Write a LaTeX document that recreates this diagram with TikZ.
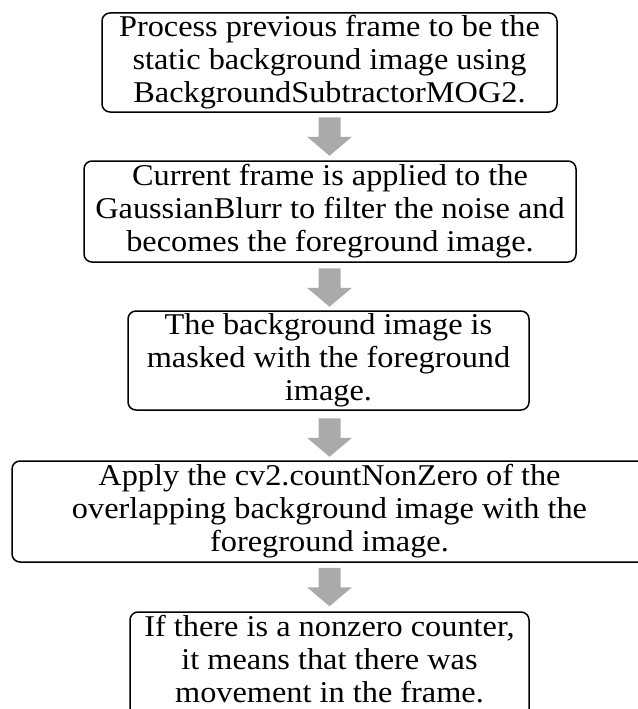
\documentclass[tikz,border=0pt]{standalone}
\usepackage{fontspec}
\setmainfont{Liberation Serif}[FakeStretch=1.07]
\usetikzlibrary{calc}
\definecolor{arrowgray}{RGB}{170,170,170}
\tikzset{
  stepbox/.style={draw=black, line width=1.5pt, rounded corners=8pt, inner sep=0pt,
    align=center, font=\fontsize{30.2}{33}\selectfont},
}
\newcommand\blkarrow[1]{\fill[arrowgray] #1 ++(-11,0) -- ++(22,0) -- ++(0,19.5) -- ++(11.5,0) -- ++(-22.5,19) -- ++(-22.5,-19) -- ++(11.5,0) -- cycle;}
\begin{document}
\begin{tikzpicture}[x=1pt,y=-1pt]
\useasboundingbox (0,0) rectangle (637,709);
\node[stepbox, minimum width=455pt, minimum height=99pt] (b1) at (329.5,62.5)
  {Process previous frame to be the\\static background image using\\BackgroundSubtractorMOG2.};
\node[stepbox, minimum width=492pt, minimum height=101pt] (b2) at (330,211.5)
  {Current frame is applied to the\\GaussianBlurr to filter the noise and\\becomes the foreground image.};
\node[stepbox, minimum width=401pt, minimum height=99pt] (b3) at (328.5,360.5)
  {The background image is\\masked with the foreground\\image.};
\node[stepbox, minimum width=635pt, minimum height=101pt] (b4) at (329.5,511.5)
  {Apply the cv2.countNonZero of the\\overlapping background image with the\\foreground image.};
\node[stepbox, minimum width=399pt, minimum height=106pt] (b5) at (329.5,665)
  {If there is a nonzero counter,\\it means that there was\\movement in the frame.\rule[-12pt]{0pt}{0pt}};
\coordinate (a1) at ($(b1.south)+(0,4.5)$);
\coordinate (a2) at ($(b2.south)+(-0.5,5.5)$);
\coordinate (a3) at ($(b3.south)+(1,7.5)$);
\coordinate (a4) at ($(b4.south)+(0,5)$);
\blkarrow{(a1)}
\blkarrow{(a2)}
\blkarrow{(a3)}
\blkarrow{(a4)}
\end{tikzpicture}
\end{document}
